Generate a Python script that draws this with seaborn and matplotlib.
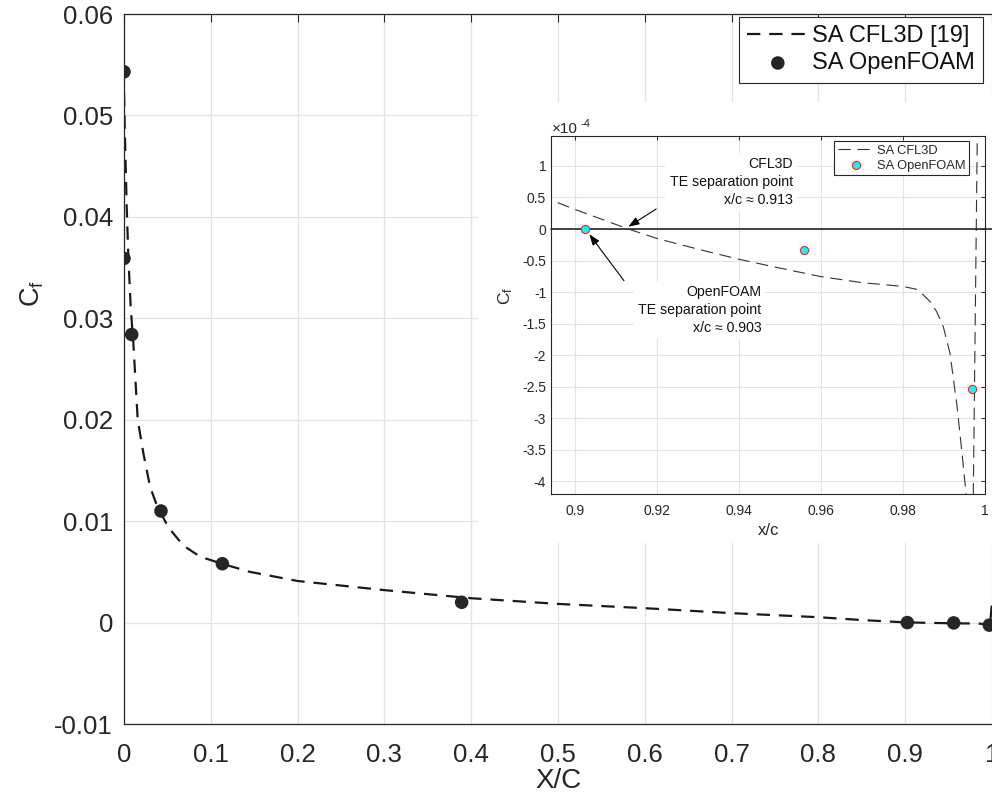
import matplotlib
matplotlib.use("Agg")
import numpy as np
import pandas as pd
import matplotlib.pyplot as plt
from matplotlib.patches import Rectangle
from matplotlib.ticker import FuncFormatter
import seaborn as sns

# SA CFL3D skin-friction distribution along the chord
cfl3d_x = [0.0, 0.0012, 0.0031, 0.005, 0.0077, 0.0108, 0.0158, 0.0223, 0.030,
           0.0376, 0.051, 0.0683, 0.0876, 0.113, 0.145, 0.2, 0.3, 0.4, 0.5,
           0.6, 0.7, 0.8, 0.85, 0.89415, 0.9, 0.913, 0.92, 0.93, 0.94, 0.95,
           0.96, 0.97, 0.98, 0.98333, 0.98496, 0.98659, 0.98821, 0.98984,
           0.99146, 0.99309, 0.99431, 0.99537, 0.9960, 0.99685, 0.99715,
           0.99812, 1.0]
cfl3d_cf = [0.0522, 0.0476, 0.0410, 0.0361, 0.0311, 0.0275, 0.0200, 0.0167,
            0.0134, 0.0116, 0.0094, 0.0076, 0.0065, 0.0058, 0.0050, 0.0041,
            0.0032, 0.0024, 0.00184, 0.00142, 0.00093, 0.00053, 0.00025,
            0.46e-4, 0.31e-4, 0.0, -0.15e-4, -0.32e-4, -0.48e-4, -0.62e-4,
            -0.755e-4, -0.85e-4, -0.91e-4, -0.956e-4, -1.045e-4, -1.15e-4,
            -1.31e-4, -1.55e-4, -1.97e-4, -2.76e-4, -3.50e-4, -4.19e-4,
            -4.8e-4, -6.0e-4, -4.19e-4, 1.49e-4, 20e-4]

# SA OpenFOAM wall samples
openfoam_x = [0.0, 0.0, 0.0089, 0.0426, 0.1133, 0.389, 0.90244, 0.95585, 0.99691]
openfoam_cf = [0.0543, 0.0359, 0.0284, 0.0110, 0.0058, 0.0020, 0.0, -0.333e-4, -2.535e-4]

main_xticks = [0, 0.1, 0.2, 0.3, 0.4, 0.5, 0.6, 0.7, 0.8, 0.9, 1.0]
main_yticks = [-0.01, 0, 0.01, 0.02, 0.03, 0.04, 0.05, 0.06]
zoom_xticks = [0.9, 0.92, 0.94, 0.96, 0.98, 1.0]
zoom_yticks = [1e-4, 0.5e-4, 0, -0.5e-4, -1e-4, -1.5e-4, -2e-4, -2.5e-4,
               -3e-4, -3.5e-4, -4e-4]

cfl3d = pd.DataFrame({"x": cfl3d_x, "cf": cfl3d_cf})
openfoam = pd.DataFrame({"x": openfoam_x, "cf": openfoam_cf})

sns.set_theme(style="whitegrid")
plt.rcParams.update({
    "font.family": ["Liberation Sans", "DejaVu Sans"],
    "mathtext.fontset": "custom",
    "mathtext.rm": "Liberation Sans",
    "mathtext.it": "Liberation Sans:italic",
    "axes.unicode_minus": False,
})

INK = "#262626"
GRID = "#e3e3e3"

fig = plt.figure(figsize=(9.92, 7.95), dpi=100)
fig.patch.set_facecolor("white")

# ---- main axes -------------------------------------------------------------
ax = fig.add_axes([124 / 992, 71 / 795, 868 / 992, 710 / 795])
ax.set_facecolor("white")
sns.lineplot(data=cfl3d, x="x", y="cf", ax=ax, color="#1a1a1a", lw=1.6,
             linestyle=(0, (6, 4)), estimator=None, sort=False,
             label="SA CFL3D [19]", zorder=2)
sns.scatterplot(data=openfoam, x="x", y="cf", ax=ax, color=INK, s=95,
                edgecolor="none", label="SA OpenFOAM", zorder=3)

ax.set_xlim(0, 1)
ax.set_ylim(-0.01, 0.06)
ax.set_xticks(main_xticks)
ax.set_yticks(main_yticks)
fmt = FuncFormatter(lambda v, _: f"{round(v, 6):g}")
ax.xaxis.set_major_formatter(fmt)
ax.yaxis.set_major_formatter(fmt)
ax.tick_params(axis="both", direction="in", length=6, width=0.8,
               colors=INK, labelsize=18.5, top=True, right=False)
ax.tick_params(axis="x", pad=13.5)
ax.tick_params(axis="y", pad=8)
ax.grid(True, color=GRID, lw=0.9)
for side in ("left", "bottom", "top"):
    ax.spines[side].set_color(INK)
    ax.spines[side].set_linewidth(0.9)
ax.spines["right"].set_visible(False)

ax.set_xlabel("X/C", fontsize=20, color=INK, labelpad=1.0)
ax.set_ylabel("C$_{\\rm f}$", fontsize=19.5, color=INK)
ax.yaxis.set_label_coords(-0.0899, 0.606)

leg = ax.legend(loc="upper right", bbox_to_anchor=(0.9896, 0.9958),
                fontsize=17, frameon=True, fancybox=False, framealpha=1,
                edgecolor=INK, handlelength=2.6, handletextpad=0.13,
                borderpad=0.36, labelspacing=0.2, borderaxespad=0)
leg.get_frame().set_linewidth(0.8)
for t in leg.get_texts():
    t.set_color("#111111")

# white panel behind the zoomed view
fig.add_artist(Rectangle((478 / 992, 252 / 795), 514 / 992, 441 / 795,
                         transform=fig.transFigure, facecolor="white",
                         edgecolor="none", zorder=1))

# ---- zoomed view of the trailing edge ----------------------------------------
axin = fig.add_axes([551 / 992, 301 / 795, 434 / 992, 358 / 795], zorder=2)
axin.set_facecolor("white")
axin.axhline(0, xmin=0, xmax=(992 - 551) / 434, color=INK, lw=1.2,
             clip_on=False, zorder=2)
sns.lineplot(data=cfl3d, x="x", y="cf", ax=axin, color="#333333", lw=0.8,
             linestyle=(0, (11, 6)), estimator=None, sort=False,
             label="SA CFL3D", zorder=3)
sns.scatterplot(data=openfoam, x="x", y="cf", ax=axin, color="#00ffff",
                s=34, edgecolor="#ff2020", linewidth=0.8,
                label="SA OpenFOAM", zorder=4)

axin.set_xlim(0.89415, 1.0)
axin.set_ylim(-4.2e-4, 1.474e-4)
axin.set_xticks(zoom_xticks)
axin.set_yticks(zoom_yticks)
axin.xaxis.set_major_formatter(FuncFormatter(lambda v, _: f"{round(v, 6):g}"))
axin.yaxis.set_major_formatter(FuncFormatter(lambda v, _: f"{round(v * 1e4, 6):g}"))
axin.tick_params(axis="both", direction="in", length=3, width=0.7,
                 colors=INK, labelsize=10, top=True, right=True)
axin.tick_params(axis="x", pad=7.5)
axin.tick_params(axis="y", pad=3.5)
axin.grid(True, color=GRID, lw=0.8)
for side in axin.spines.values():
    side.set_color(INK)
    side.set_linewidth(0.8)
axin.set_xlabel("x/c", fontsize=12, color=INK, labelpad=3)
axin.set_ylabel("C$_{\\rm f}$", fontsize=12.5, color=INK)
axin.yaxis.set_label_coords(-0.083, 0.552)

# axis multiplier above the zoomed view
axin.text(0.002, 1.0084, "\u00d710", transform=axin.transAxes,
          fontsize=11, color=INK, ha="left", va="baseline")
axin.text(0.067, 1.026, "-4", transform=axin.transAxes,
          fontsize=8, color=INK, ha="left", va="baseline")

leg2 = axin.legend(loc="upper right", bbox_to_anchor=(0.963, 0.986),
                   fontsize=9.3, frameon=True, fancybox=False, framealpha=1,
                   edgecolor=INK, handlelength=2.8, handletextpad=0.2,
                   borderpad=0.3, labelspacing=0.2, borderaxespad=0)
leg2.get_frame().set_linewidth(0.8)

box = dict(facecolor="white", edgecolor="none", pad=3)
axin.text(0.9531, 0.75e-4, "CFL3D\nTE separation point\nx/c \u2248 0.913",
          ha="right", va="center", multialignment="right", fontsize=10.2,
          color="#111111", linespacing=1.35, bbox=box, zorder=5)
axin.text(0.9454, -1.284e-4, "OpenFOAM\nTE separation point\nx/c \u2248 0.903",
          ha="right", va="center", multialignment="right", fontsize=10.2,
          color="#111111", linespacing=1.35, bbox=box, zorder=5)

arrow = dict(arrowstyle="-|>,head_length=0.55,head_width=0.2", color="black",
             lw=0.8, shrinkA=0, shrinkB=0)
axin.annotate("", xy=(0.913, 0.036e-4), xytext=(0.9198, 0.317e-4),
              arrowprops=arrow, zorder=6)
axin.annotate("", xy=(0.9035, -0.084e-4), xytext=(0.91195, -0.82e-4),
              arrowprops=arrow, zorder=6)

fig.savefig("out.png", dpi=100, facecolor="white")
